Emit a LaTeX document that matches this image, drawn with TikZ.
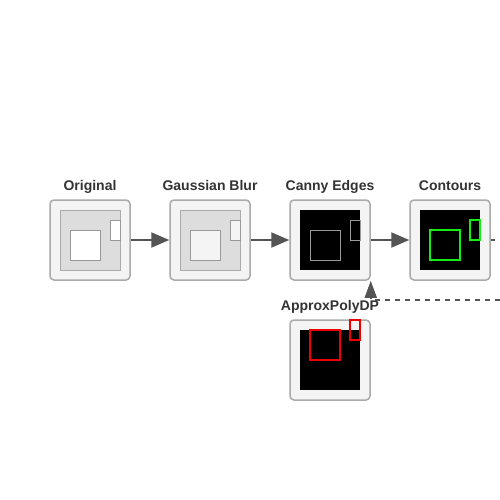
\documentclass[tikz,border=0pt]{standalone}
\usepackage{fontspec}
\setmainfont{Liberation Sans}
\usetikzlibrary{arrows.meta}
\definecolor{txt}{HTML}{333333}
\definecolor{edge}{HTML}{555555}
\definecolor{frame}{HTML}{AAAAAA}
\definecolor{panel}{HTML}{F4F4F4}
\definecolor{midgray}{HTML}{DDDDDD}
\definecolor{sqgray}{HTML}{999999}
\definecolor{grn}{HTML}{11EE11}
\definecolor{rd}{HTML}{EE0000}
\tikzset{
  stagebox/.style={draw=frame, fill=panel, line width=1.5pt, rounded corners=4pt, minimum width=80pt, minimum height=80pt, inner sep=0pt},
  stagelabel/.style={text=txt, font=\bfseries\fontsize{14}{16}\selectfont, inner sep=0pt, anchor=base},
  flow/.style={draw=edge, line width=2pt, -{Triangle[length=18pt,width=15pt]}},
  loopback/.style={draw=edge, line width=1.5pt, dash pattern=on 5pt off 5pt, -{Triangle[length=17pt,width=12pt]}},
  thinsq/.style={draw=sqgray, line width=1pt},
  green sq/.style={draw=grn, line width=2pt},
  red sq/.style={draw=rd, line width=2pt}
}
\begin{document}
\begin{tikzpicture}[x=1pt,y=-1pt]
\useasboundingbox (0,0) rectangle (500,500);
\fill[white] (0,0) rectangle (500,500);
% stage boxes
\node[stagebox] (b1) at (90,240) {};
\node[stagebox] (b2) at (210,240) {};
\node[stagebox] (b3) at (330,240) {};
\node[stagebox] (b4) at (450,240) {};
\node[stagebox] (b5) at (330,360) {};
% labels
\node[stagelabel] (l1) at (90,190) {Original};
\node[stagelabel] (l2) at (210,190) {Gaussian Blur};
\node[stagelabel] (l3) at (330,190) {Canny Edges};
\node[stagelabel] (l4) at (450,190) {Contours};
\node[stagelabel] (l5) at (330,310) {ApproxPolyDP};
% box 1 content
\filldraw[fill=midgray, draw=frame, line width=1pt] (60,210) rectangle (120,270);
\filldraw[fill=white, thinsq] (70,230) rectangle (100,260);
\filldraw[fill=white, thinsq] (110,220) rectangle (120,240);
% box 2 content
\filldraw[fill=midgray, draw=frame, line width=1pt] (180,210) rectangle (240,270);
\filldraw[fill=panel, thinsq] (190,230) rectangle (220,260);
\filldraw[fill=panel, thinsq] (230,220) rectangle (240,240);
% box 3 content
\fill[black] (300,210) rectangle (360,270);
\draw[thinsq] (310,230) rectangle (340,260);
\draw[thinsq] (350,220) rectangle (360,240);
% box 4 content
\fill[black] (420,210) rectangle (480,270);
\draw[green sq] (430,230) rectangle (460,260);
\draw[green sq] (470,220) rectangle (480,240);
% box 5 content
\fill[black] (300,330) rectangle (360,390);
\draw[red sq] (310,330) rectangle (340,360);
\draw[red sq] (350,320) rectangle (360,340);
% connectors
\draw[flow] (b1.east) -- (b2.west);
\draw[flow] (b2.east) -- (b3.west);
\draw[flow] (b3.east) -- (b4.west);
\coordinate (stub) at (495,240);
\draw[draw=edge, line width=1.5pt] (b4.east) -- (stub);
\coordinate (back) at (500,300);
\draw[loopback] (back) -| (b3.south east);
\end{tikzpicture}
\end{document}
